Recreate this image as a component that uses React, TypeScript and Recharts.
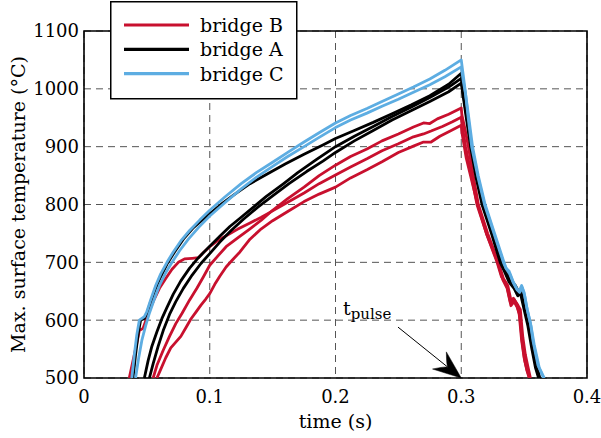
import React from "react"
import {
  LineChart,
  Line,
  XAxis,
  YAxis,
  CartesianGrid,
  ReferenceArea,
  ReferenceLine
} from "recharts"

const FONT = '"DejaVu Serif", serif'
const RED = "#c8102e"
const BLACK = "#000000"
const BLUE = "#5dade2"

const xTicks = [0, 0.1, 0.2, 0.3, 0.4]
const yTicks = [500, 600, 700, 800, 900, 1000, 1100]

// each trace: [time (s), max. surface temperature (°C)]
const bridgeB1 = [
  [0.055, 500], [0.058, 522], [0.063, 548], [0.068, 572], [0.073, 594], [0.078, 612],
  [0.084, 635], [0.09, 656], [0.095, 675], [0.1, 695], [0.106, 710], [0.113, 727],
  [0.122, 742], [0.132, 758], [0.141, 773], [0.15, 790], [0.162, 810], [0.175, 830],
  [0.187, 850], [0.2, 868], [0.212, 883], [0.225, 896], [0.237, 910], [0.25, 922],
  [0.262, 934], [0.27, 941], [0.275, 940], [0.281, 948], [0.29, 956], [0.3, 967],
  [0.3005, 955], [0.303, 930], [0.3057, 900], [0.3095, 850], [0.3136, 800], [0.321, 750],
  [0.3295, 700], [0.3335, 672], [0.337, 660], [0.34, 630], [0.342, 636], [0.345, 626],
  [0.347, 618], [0.349, 570], [0.351, 540], [0.353, 520], [0.355, 500]
]
const bridgeB2 = [
  [0.036, 500], [0.039, 530], [0.042, 560], [0.044, 582], [0.047, 586], [0.049, 598],
  [0.052, 617], [0.056, 637], [0.06, 655], [0.065, 672], [0.07, 688], [0.075, 700],
  [0.08, 706], [0.086, 707], [0.091, 708], [0.095, 717], [0.1, 727], [0.106, 737],
  [0.113, 746], [0.122, 757], [0.132, 768], [0.141, 778], [0.15, 789], [0.162, 804],
  [0.175, 820], [0.187, 836], [0.2, 851], [0.212, 865], [0.225, 879], [0.237, 893],
  [0.25, 905], [0.262, 917], [0.27, 922], [0.276, 927], [0.285, 935], [0.293, 943],
  [0.3, 951], [0.3005, 940], [0.3035, 900], [0.308, 850], [0.3125, 800], [0.32, 750],
  [0.3285, 700], [0.332, 675], [0.336, 662], [0.339, 632], [0.3415, 638], [0.344, 628],
  [0.346, 612], [0.348, 565], [0.35, 535], [0.352, 515], [0.354, 500]
]
const bridgeB3 = [
  [0.058, 500], [0.061, 515], [0.065, 535], [0.069, 552], [0.073, 562], [0.077, 572],
  [0.081, 587], [0.085, 602], [0.089, 614], [0.093, 626], [0.097, 637], [0.1, 646],
  [0.104, 662], [0.108, 676], [0.113, 692], [0.118, 704], [0.124, 718], [0.132, 740],
  [0.141, 758], [0.15, 772], [0.162, 788], [0.175, 805], [0.187, 818], [0.2, 830],
  [0.212, 846], [0.225, 860], [0.237, 874], [0.25, 890], [0.262, 901], [0.27, 908],
  [0.276, 908], [0.283, 918], [0.292, 928], [0.3, 937], [0.3005, 925], [0.304, 880],
  [0.3085, 840], [0.313, 800], [0.32, 750], [0.329, 700], [0.333, 670], [0.3365, 655],
  [0.3395, 625], [0.342, 632], [0.3445, 622], [0.3465, 608], [0.3485, 562], [0.3505, 530],
  [0.3525, 512], [0.3545, 500]
]

const bridgeA1 = [
  [0.039, 500], [0.041, 540], [0.043, 575], [0.045, 600], [0.048, 603], [0.05, 612],
  [0.053, 632], [0.057, 655], [0.061, 675], [0.066, 697], [0.072, 718], [0.079, 740],
  [0.087, 760], [0.095, 775], [0.1, 784], [0.11, 802], [0.12, 818], [0.132, 836],
  [0.145, 852], [0.16, 870], [0.175, 887], [0.19, 903], [0.2, 914], [0.215, 928],
  [0.23, 942], [0.245, 957], [0.26, 972], [0.275, 988], [0.29, 1008], [0.3, 1027],
  [0.301, 1010], [0.3025, 1000], [0.305, 950], [0.308, 900], [0.3125, 850], [0.3175, 800],
  [0.325, 750], [0.332, 700], [0.335, 688], [0.339, 670], [0.343, 660], [0.346, 648],
  [0.348, 652], [0.351, 622], [0.354, 595], [0.357, 560], [0.36, 522], [0.3625, 500]
]
const bridgeA2 = [
  [0.048, 500], [0.051, 530], [0.054, 555], [0.058, 580], [0.062, 603], [0.066, 622],
  [0.071, 645], [0.077, 668], [0.084, 690], [0.091, 708], [0.1, 728], [0.108, 745],
  [0.116, 762], [0.125, 778], [0.135, 796], [0.145, 814], [0.158, 835], [0.17, 855],
  [0.185, 878], [0.2, 900], [0.215, 918], [0.23, 935], [0.245, 952], [0.26, 968],
  [0.275, 985], [0.29, 1003], [0.3, 1018], [0.301, 1000], [0.3045, 950], [0.3078, 900],
  [0.312, 850], [0.317, 800], [0.3245, 750], [0.3315, 700], [0.3345, 687], [0.3385, 668],
  [0.3425, 658], [0.3455, 645], [0.3475, 650], [0.3505, 620], [0.3535, 592], [0.3565, 556],
  [0.3595, 520], [0.362, 500]
]
const bridgeA3 = [
  [0.052, 500], [0.055, 525], [0.059, 555], [0.063, 582], [0.068, 610], [0.073, 632],
  [0.079, 655], [0.086, 678], [0.093, 698], [0.1, 715], [0.108, 735], [0.117, 755],
  [0.127, 775], [0.138, 795], [0.15, 815], [0.163, 836], [0.177, 857], [0.19, 875],
  [0.2, 890], [0.215, 910], [0.23, 928], [0.245, 946], [0.26, 962], [0.275, 978],
  [0.29, 995], [0.3, 1010], [0.301, 995], [0.304, 950], [0.3075, 900], [0.3115, 850],
  [0.3165, 800], [0.324, 750], [0.331, 700], [0.334, 686], [0.338, 666], [0.342, 655],
  [0.345, 642], [0.347, 647], [0.35, 618], [0.353, 590], [0.356, 552], [0.359, 518],
  [0.3615, 500]
]

const bridgeC1 = [
  [0.038, 500], [0.04, 540], [0.042, 575], [0.044, 600], [0.048, 606], [0.05, 615],
  [0.053, 635], [0.057, 660], [0.061, 680], [0.066, 700], [0.071, 718], [0.077, 737],
  [0.084, 755], [0.092, 773], [0.1, 790], [0.112, 813], [0.125, 836], [0.137, 855],
  [0.15, 873], [0.162, 890], [0.175, 908], [0.187, 924], [0.2, 941], [0.212, 954],
  [0.225, 966], [0.237, 978], [0.25, 991], [0.262, 1003], [0.275, 1017], [0.287, 1032],
  [0.3, 1050], [0.3015, 1025], [0.303, 1000], [0.3055, 950], [0.3083, 900], [0.313, 850],
  [0.3185, 800], [0.326, 750], [0.3335, 700], [0.3355, 690], [0.338, 685], [0.341, 668],
  [0.344, 655], [0.346, 650], [0.348, 660], [0.35, 648], [0.352, 623], [0.355, 595],
  [0.357, 565], [0.361, 522], [0.3655, 500]
]
const bridgeC2 = [
  [0.041, 500], [0.0435, 535], [0.046, 565], [0.049, 590], [0.052, 612], [0.056, 637],
  [0.06, 660], [0.065, 682], [0.07, 700], [0.076, 720], [0.083, 740], [0.091, 760],
  [0.1, 780], [0.112, 803], [0.125, 827], [0.137, 847], [0.15, 866], [0.162, 883],
  [0.175, 900], [0.187, 916], [0.2, 933], [0.212, 946], [0.225, 958], [0.237, 970],
  [0.25, 982], [0.262, 994], [0.275, 1007], [0.287, 1021], [0.3, 1038], [0.3015, 1015],
  [0.3035, 990], [0.306, 950], [0.309, 900], [0.3135, 850], [0.319, 800], [0.3265, 750],
  [0.334, 700], [0.336, 688], [0.3385, 680], [0.3415, 664], [0.3445, 652], [0.3465, 648],
  [0.3485, 656], [0.3505, 642], [0.3525, 618], [0.3555, 590], [0.358, 558], [0.362, 518],
  [0.366, 500]
]

// arrow for the pulse end, from label to t = 0.3 s
const pulseArrowFrom = { x: 0.2497, y: 588 }
const pulseArrowTo = { x: 0.3, y: 500 }

const legendItems = [
  { label: "bridge B", color: RED },
  { label: "bridge A", color: BLACK },
  { label: "bridge C", color: BLUE }
]

const toPoints = (pairs: number[][]) => pairs.map(([t, T]) => ({ t, T }))

// draw order: B, then A, then C on top
const series = [
  { key: "B1", color: RED, data: toPoints(bridgeB1) },
  { key: "B2", color: RED, data: toPoints(bridgeB2) },
  { key: "B3", color: RED, data: toPoints(bridgeB3) },
  { key: "A1", color: BLACK, data: toPoints(bridgeA1) },
  { key: "A2", color: BLACK, data: toPoints(bridgeA2) },
  { key: "A3", color: BLACK, data: toPoints(bridgeA3) },
  { key: "C1", color: BLUE, data: toPoints(bridgeC1) },
  { key: "C2", color: BLUE, data: toPoints(bridgeC2) }
]

const PulseArrow = (props: any) => {
  const { x1, y1, x2, y2 } = props
  const dx = x2 - x1
  const dy = y2 - y1
  const len = Math.hypot(dx, dy) || 1
  const ux = dx / len
  const uy = dy / len
  const nx = -uy
  const ny = ux
  const L = 28
  const W = 11
  const notch = 17
  const bx = x2 - L * ux
  const by = y2 - L * uy
  const mx = x2 - notch * ux
  const my = y2 - notch * uy
  const head = `M${x2},${y2} L${bx + W * nx},${by + W * ny} Q${mx - 2 * ux},${my - 2 * uy} ${mx},${my} Q${mx - 2 * ux},${my - 2 * uy} ${bx - W * nx},${by - W * ny} Z`
  return (
    <g>
      <line x1={x1} y1={y1} x2={mx} y2={my} stroke="#000" strokeWidth={1} />
      <path d={head} fill="#000" stroke="#000" strokeWidth={0.5} strokeLinejoin="miter" />
      <text x={x1 - 55} y={y1 - 12} fontFamily={FONT} fontSize={19} fill="#000">
        t<tspan dy={4} fontSize={15}>pulse</tspan>
      </text>
    </g>
  )
}

const XLabel = (props: any) => {
  const vb = props.viewBox || {}
  return (
    <text x={vb.x + vb.width / 2} y={vb.y + 50} textAnchor="middle" fontFamily={FONT} fontSize={19} fill="#000">
      time (s)
    </text>
  )
}

const YLabel = (props: any) => {
  const vb = props.viewBox || {}
  const cx = vb.x + 25
  const cy = vb.y + vb.height / 2
  return (
    <text x={cx} y={cy} transform={`rotate(-90, ${cx}, ${cy})`} textAnchor="middle" fontFamily={FONT} fontSize={19} fill="#000">
      Max. surface temperature (°C)
    </text>
  )
}

const ChartLegend = () => (
  <svg width={188} height={99} style={{ position: "absolute", left: 110, top: 1 }}>
    <rect x={0.75} y={0.75} width={186} height={97} fill="#fff" stroke="#000" strokeWidth={1.5} />
    {legendItems.map((item, i) => {
      const y = 24 + i * 24.3
      return (
        <g key={item.label}>
          <line x1={14} x2={79} y1={y} y2={y} stroke={item.color} strokeWidth={3.2} />
          <text x={90} y={y + 7} fontFamily={FONT} fontSize={19} fill="#000">
            {item.label}
          </text>
        </g>
      )
    })}
  </svg>
)

export default function App() {
  return (
    <div style={{ position: "fixed", left: 0, top: 0, width: 601, height: 438, background: "#fff" }}>
      <LineChart width={601} height={438} margin={{ top: 31, right: 14, left: 0, bottom: 0 }}>
        <CartesianGrid stroke="#555" strokeDasharray="7 5" strokeWidth={1} />
        <XAxis
          type="number"
          dataKey="t"
          domain={[0, 0.4]}
          ticks={xTicks}
          allowDataOverflow
          height={60}
          axisLine={false}
          tickLine={false}
          tickSize={0}
          tickMargin={12}
          tick={{ fontFamily: FONT, fontSize: 18, fill: "#000" }}
          label={XLabel}
        />
        <YAxis
          type="number"
          dataKey="T"
          domain={[500, 1100]}
          ticks={yTicks}
          allowDataOverflow
          width={84}
          axisLine={false}
          tickLine={false}
          tickSize={0}
          tickMargin={5}
          tick={{ fontFamily: FONT, fontSize: 18, fill: "#000" }}
          label={YLabel}
        />
        {series.map((s) => (
          <Line
            key={s.key}
            data={s.data}
            dataKey="T"
            type="linear"
            stroke={s.color}
            strokeWidth={2.8}
            strokeLinejoin="round"
            dot={false}
            activeDot={false}
            legendType="none"
            isAnimationActive={false}
          />
        ))}
        <ReferenceArea x1={0} x2={0.4} y1={500} y2={1100} fill="none" stroke="#000" strokeWidth={1.6} />
        <ReferenceLine segment={[pulseArrowFrom, pulseArrowTo]} shape={PulseArrow} />
      </LineChart>
      <ChartLegend />
    </div>
  )
}
